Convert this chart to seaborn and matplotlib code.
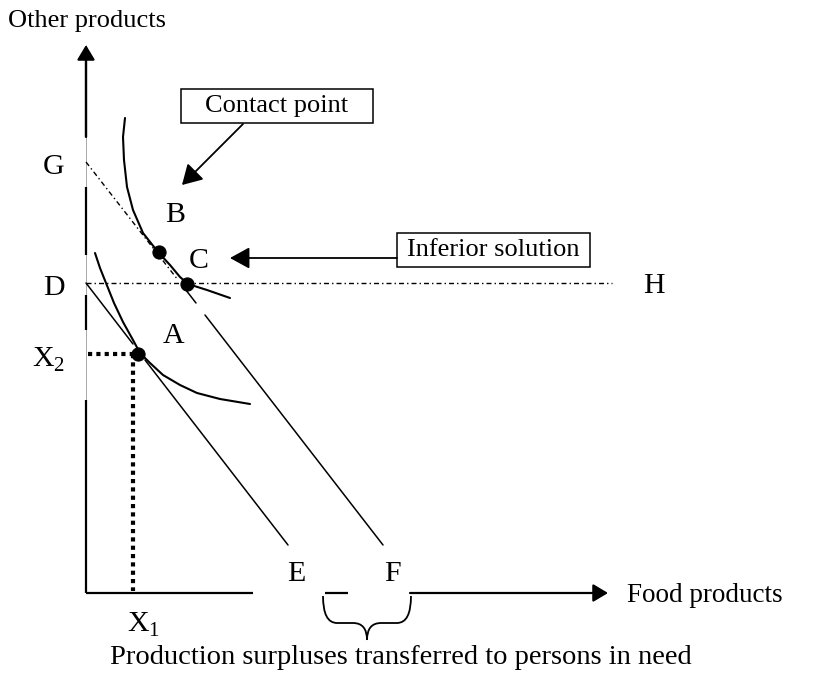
import matplotlib
matplotlib.use("Agg")
import matplotlib.pyplot as plt
import seaborn as sns
import pandas as pd
from matplotlib.patches import Rectangle, PathPatch
from matplotlib.path import Path

# ------------------------------------------------------------
# Diagram values (units: origin at the corner of the two axes)
# ------------------------------------------------------------
upper_x = [39, 37, 38, 41, 47, 57, 72, 84, 94, 102, 121, 144]
upper_y = [475, 456, 433, 406, 383, 360, 341, 328, 316, 309, 303, 295]
lower_x = [9, 14, 20, 28, 37, 47, 54, 64, 77, 94, 111, 134, 164]
lower_y = [340, 325, 310, 290, 271, 253, 240, 230, 218, 208, 200, 194, 189]

point_names = ["A", "B", "C"]
point_x = [52, 73, 101]
point_y = [239, 341, 309]

x1_value = 47
x2_value = 239

# budget line G-F (dash-dot part, then solid part with a small break)
gf_dash_x = [0, 92]
gf_dash_y = [431, 313]
gf_solid_x = [[96, 110], [119, 297]]
gf_solid_y = [[308, 290], [278, 48]]
# budget line D-E
de_x = [[0, 47], [59, 202]]
de_y = [[310, 249], [233, 48]]
# horizontal D-H
dh_x = [0, 526]
dh_y = [310, 310]

# axis pieces (white breaks where the labels sit)
yaxis_pieces = [(0, 193), (263, 298), (338, 406), (456, 536)]
yaxis_top = (456, 548)
xaxis_pieces = [(0, 167), (239, 262)]
xaxis_last = (324, 522)

letters = ["G", "D", "H", "B", "C", "A", "E", "F"]
letter_x = [-32, -32, 568, 89, 113, 88, 210, 306]
letter_y = [426, 305, 307, 378, 332, 257, 19, 19]

# ------------------------------------------------------------
sns.set_theme(style="white")
plt.rcParams["font.family"] = ["Liberation Serif", "DejaVu Serif"]
plt.rcParams["mathtext.fontset"] = "custom"
plt.rcParams["mathtext.rm"] = "Liberation Serif"
plt.rcParams["text.color"] = "black"

fig = plt.figure(figsize=(8.13, 6.79), dpi=100)
ax = fig.add_axes([0, 0, 1, 1])
ax.set_xlim(-86, 727)
ax.set_ylim(-86, 593)
ax.axis("off")

arrow_head = "-|>,head_length=0.45,head_width=0.27"

# axes
ax.plot([0, 0], [0, 548], color="#9a9a9a", lw=0.6, zorder=1)
for y0, y1 in yaxis_pieces:
    ax.plot([0, 0], [y0, y1], color="black", lw=1.6, solid_capstyle="butt")
ax.annotate("", xy=(0, yaxis_top[1]), xytext=(0, yaxis_top[0]),
            arrowprops=dict(arrowstyle=arrow_head, mutation_scale=20, lw=1.6,
                            color="black", shrinkA=0, shrinkB=0))
for x0, x1 in xaxis_pieces:
    ax.plot([x0, x1], [0, 0], color="black", lw=1.6, solid_capstyle="butt")
ax.annotate("", xy=(xaxis_last[1], 0), xytext=(xaxis_last[0], 0),
            arrowprops=dict(arrowstyle=arrow_head, mutation_scale=20, lw=1.6,
                            color="black", shrinkA=0, shrinkB=0))

# indifference curves
curves = pd.concat([
    pd.DataFrame({"x": upper_x, "y": upper_y, "curve": "upper"}),
    pd.DataFrame({"x": lower_x, "y": lower_y, "curve": "lower"}),
])
sns.lineplot(data=curves, x="x", y="y", units="curve", estimator=None,
             sort=False, color="black", lw=1.5, ax=ax)

# budget lines
dashdot = (0, (3.6, 2.2, 1, 2.2))
ax.plot(gf_dash_x, gf_dash_y, color="black", lw=1.0, linestyle=dashdot)
ax.plot(dh_x, dh_y, color="black", lw=1.0, linestyle=dashdot)
for xs, ys in zip(gf_solid_x, gf_solid_y):
    ax.plot(xs, ys, color="black", lw=1.1)
for xs, ys in zip(de_x, de_y):
    ax.plot(xs, ys, color="black", lw=1.1)

# dotted guides to X1 / X2
ax.plot([2, x1_value], [x2_value, x2_value], color="black", lw=3,
        linestyle=(0, (1, 1)))
ax.plot([x1_value, x1_value], [x2_value, 2], color="black", lw=3,
        linestyle=(0, (1, 1)))

# points A, B, C
sns.scatterplot(x=point_x, y=point_y, color="black", s=90, ax=ax, zorder=5,
                edgecolor="black")

# letters
for name, lx, ly in zip(letters, letter_x, letter_y):
    ax.text(lx, ly, name, fontsize=21.5, ha="center", va="center")
ax.text(-54, 233, r"X$_{\mathregular{2}}$", fontsize=21.5, ha="left", va="center")
ax.text(58, -32, r"X$_{\mathregular{1}}$", fontsize=21.5, ha="center", va="center")

# axis titles
ax.text(-78, 572, "Other products", fontsize=19, ha="left", va="center")
ax.text(541, -2, "Food products", fontsize=19.5, ha="left", va="center")

# boxes with arrows
ax.add_patch(Rectangle((95, 470), 192, 34, fill=False, ec="black", lw=1.1))
ax.text(191, 487, "Contact point", fontsize=19, ha="center", va="center")
ax.annotate("", xy=(96, 408), xytext=(157, 469),
            arrowprops=dict(arrowstyle="-|>,head_length=0.6,head_width=0.35",
                            mutation_scale=20, lw=1.3, color="black",
                            shrinkA=0, shrinkB=0))
ax.add_patch(Rectangle((311, 326), 193, 34, fill=False, ec="black", lw=1.1))
ax.text(407, 343, "Inferior solution", fontsize=19, ha="center", va="center")
ax.annotate("", xy=(144, 335), xytext=(311, 335),
            arrowprops=dict(arrowstyle="-|>,head_length=0.6,head_width=0.33",
                            mutation_scale=20, lw=1.3, color="black",
                            shrinkA=0, shrinkB=0))

# curly brace under E-F
bl, br, btop, bmid, btip = 237, 325, -3, -30, -47
bc = (bl + br) / 2
verts = [(bl, btop), (bl, bmid), (bl + 14, bmid), (bc - 14, bmid), (bc, bmid), (bc, btip),
         (br, btop), (br, bmid), (br - 14, bmid), (bc + 14, bmid), (bc, bmid), (bc, btip)]
codes = [Path.MOVETO, Path.CURVE3, Path.CURVE3, Path.LINETO, Path.CURVE3, Path.CURVE3] * 2
ax.add_patch(PathPatch(Path(verts, codes), fill=False, ec="black", lw=1.3))
ax.text(24, -65, "Production surpluses transferred to persons in need",
        fontsize=20.5, ha="left", va="center")

fig.savefig("out.png", dpi=100)
